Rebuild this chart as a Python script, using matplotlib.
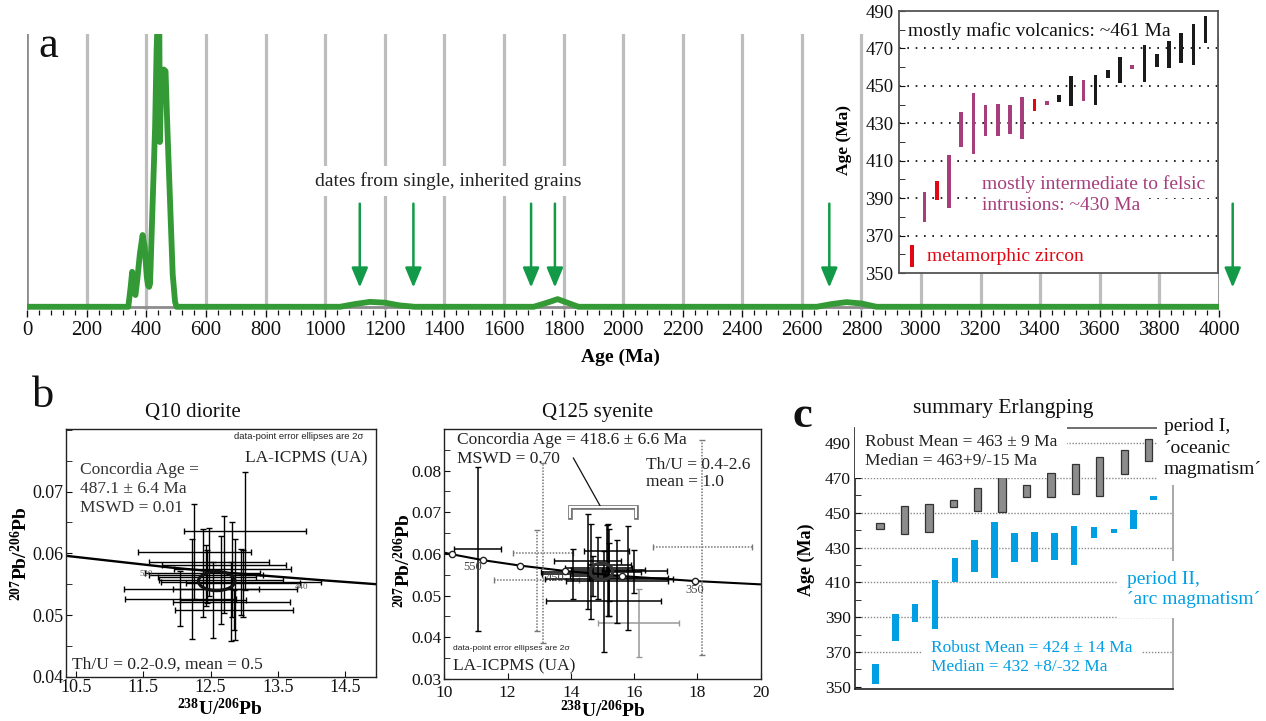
import numpy as np
import matplotlib
matplotlib.use("Agg")
import matplotlib.pyplot as plt
from matplotlib.patches import Ellipse
from matplotlib.ticker import MultipleLocator

plt.rcParams['font.family'] = ['Liberation Serif', 'DejaVu Serif']
plt.rcParams['mathtext.fontset'] = 'custom'
plt.rcParams['mathtext.rm'] = 'Liberation Serif'
plt.rcParams['mathtext.bf'] = 'Liberation Serif:bold'
plt.rcParams['mathtext.it'] = 'Liberation Serif:italic'

# ---------------- data: panel a (probability density of ages) ----------------
kde_age = [0, 339, 347, 352, 358, 363, 369, 378, 387, 394, 401, 405, 409, 412, 421,
           429, 434, 439, 443, 445, 450, 458, 464, 470, 479, 488, 496, 501,
           1050, 1100, 1150, 1200, 1250, 1300, 1700, 1745, 1780, 1820, 1850,
           2650, 2700, 2750, 2800, 2850, 4000]
kde_val = [0, 0, 0.073, 0.128, 0.061, 0.043, 0.098, 0.195, 0.263, 0.22, 0.11, 0.079, 0.073, 0.085, 0.39,
           0.66, 0.94, 1.10, 1.05, 0.604, 0.86, 0.87, 0.864, 0.66, 0.39, 0.12, 0.018, 0,
           0, 0.01, 0.018, 0.015, 0.005, 0, 0, 0.015, 0.028, 0.012, 0,
           0, 0.01, 0.017, 0.012, 0, 0]
arrow_ages = [1116, 1296, 1691, 1771, 2692, 4046]

# inset of panel a: individual sample ages (low / high of bar)
inset_lo = [353, 377.5, 389, 385, 417.5, 413.6, 423, 423.2, 424.3, 421.6, 436.5, 439.8, 441.5,
            439, 442, 440, 454.3, 451.7, 458.8, 452, 460, 459.7, 462, 461, 473]
inset_hi = [365, 393.5, 399, 413, 436, 446, 439.8, 440.3, 439.8, 444, 443, 442, 445,
            455, 453, 456, 458.3, 465.2, 461, 471.6, 467, 474, 478.5, 483, 487.4]
inset_type = ['met', 'int', 'met', 'int', 'int', 'int', 'int', 'int', 'int', 'int', 'met', 'int', 'maf',
              'maf', 'int', 'maf', 'maf', 'maf', 'int', 'maf', 'maf', 'maf', 'maf', 'maf', 'maf']
type_colors = {'met': '#e30613', 'int': '#a63e7c', 'maf': '#1a1a1a'}

# ---------------- data: panel b ----------------
q10_conc_x = [10.35, 11.0, 11.9, 12.7, 13.5, 14.2, 14.95]
q10_conc_y = [0.0596, 0.0588, 0.0577, 0.0569, 0.0562, 0.0556, 0.0550]
q10_x = [12.05, 12.22, 12.26, 12.38, 12.43, 12.45, 12.48, 12.54, 12.66, 12.70, 12.81, 12.82,
         12.86, 12.95, 12.98, 13.01, 12.85]
q10_y = [0.05266, 0.05418, 0.06023, 0.05682, 0.05644, 0.05623, 0.05861, 0.05245, 0.05569,
         0.05817, 0.05212, 0.05742, 0.05418, 0.05536, 0.05515, 0.06363, 0.05083]
q10_xe = [0.82, 1.00, 0.84, 0.85, 0.85, 0.73, 0.89, 0.49, 0.92, 0.92, 0.87, 0.87, 0.92, 1.19,
          0.84, 0.91, 0.88]
q10_ye = [0.0044, 0.0081, 0.0077, 0.0071, 0.0049, 0.0043, 0.0055, 0.0062, 0.0071, 0.0079,
          0.0064, 0.0077, 0.0082, 0.0053, 0.0054, 0.0096, 0.0032]

q125_conc_x = [10.0, 10.25, 11.23, 12.40, 13.83, 15.62, 17.92, 20.0]
q125_conc_y = [0.0603, 0.0599, 0.0585, 0.0572, 0.0559, 0.0547, 0.0535, 0.0527]
q125_mark_x = [10.25, 11.23, 12.40, 13.83, 15.62, 17.92]
q125_mark_y = [0.0599, 0.0585, 0.0572, 0.0559, 0.0547, 0.0535]
q125_x = [11.05, 14.08, 14.53, 14.63, 14.87, 15.04, 15.16, 15.21, 15.47, 15.82, 16.01, 15.13, 15.21, 14.71]
q125_y = [0.0612, 0.0551, 0.0582, 0.0557, 0.0566, 0.0486, 0.0562, 0.0574, 0.0534, 0.0542, 0.0558,
          0.0606, 0.0539, 0.0547]
q125_xe = [0.74, 1.00, 1.06, 1.58, 1.05, 1.82, 1.17, 0.68, 1.61, 1.26, 1.02, 0.71, 2.02, 0.74]
q125_ye = [0.0196, 0.0060, 0.0113, 0.0114, 0.0074, 0.0121, 0.0110, 0.0086, 0.0099, 0.0124,
           0.0052, 0.0064, 0.0088, 0.0048]
q125_excl_x = [13.12, 12.92, 18.16]
q125_excl_y = [0.0602, 0.0537, 0.0616]
q125_excl_xe = [0.95, 1.34, 1.55]
q125_excl_ye = [0.0216, 0.0121, 0.0258]
q125_disc_x = [16.14]
q125_disc_y = [0.0434]
q125_disc_xe = [1.28]
q125_disc_ye = [0.0081]

# ---------------- data: panel c ----------------
c_gray_lo = [440.5, 437.6, 438.8, 453.4, 451.1, 450.7, 458.9, 458.9, 461, 459.9, 472.2, 479.8]
c_gray_hi = [444, 453.9, 454.9, 457.2, 464.1, 470.4, 465.8, 473.1, 477.9, 481.9, 486.2, 492.5]
c_blue_lo = [351.3, 376.3, 387.4, 383, 410.4, 416, 412.3, 421.7, 421.7, 422.9, 420.2, 435.3,
             438.4, 440.7, 457.4]
c_blue_hi = [363, 391.6, 397.6, 411.4, 423.8, 434.2, 444.5, 438.2, 438.8, 438.4, 442.4, 441.9,
             440.7, 451.6, 459.7]

# ---------------- figure ----------------
W, H = 1266, 721
fig = plt.figure(figsize=(W / 100, H / 100), dpi=100)


def box(l, t, r, b):
    return [l / W, 1 - b / H, (r - l) / W, (b - t) / H]


def T(x, y, s, **kw):
    kw.setdefault('va', 'center')
    return fig.text(x / W, 1 - y / H, s, **kw)


def TB(x, y, s, pad=0.3, **kw):
    """text with a white background box drawn below all foreground texts"""
    bg = dict(kw)
    bg['color'] = 'none'
    T(x, y, s, bbox=dict(boxstyle='square,pad=%g' % pad, fc='white', ec='none'), zorder=3, **bg)
    return T(x, y, s, zorder=4, **kw)


GREEN = '#339a36'
AGREEN = '#129a48'
BLUE = '#009fe3'
PURPLE = '#a63e7c'
RED = '#e30613'

# ================= panel a =================
axA = fig.add_axes(box(27.3, 34, 1219, 309.5))
axA.set_xlim(0, 4000)
axA.set_ylim(-0.01, 1.0)
for s in axA.spines.values():
    s.set_visible(False)
for v in range(200, 4000, 200):
    axA.axvline(v, color='#bdbdbd', lw=2.3, zorder=1)
for v in (0, 4000):
    axA.axvline(v, color='#8c8c8c', lw=2.0, zorder=1)
axA.axhline(0, color='#8c8c8c', lw=2, zorder=2)
axA.plot(kde_age, kde_val, color=GREEN, lw=4.2, zorder=3, solid_joinstyle='round')
axA.set_yticks([])
axA.xaxis.set_major_locator(MultipleLocator(200))
axA.xaxis.set_minor_locator(MultipleLocator(40))
axA.tick_params(axis='x', which='major', length=5, width=1, pad=3, labelsize=15, colors='#111')
axA.tick_params(axis='x', which='minor', length=3.5, width=0.9, colors='#111')
axA.set_xlabel('Age (Ma)', fontsize=14, fontweight='bold')
axA.xaxis.set_label_coords(0.498, -0.143)
for a in arrow_ages:
    axA.annotate('', xy=(a, 0.0707), xytext=(a, 0.378), annotation_clip=False,
                 arrowprops=dict(arrowstyle='-|>,head_length=0.6,head_width=0.25',
                                 color=AGREEN, lw=1.8, shrinkA=0, shrinkB=0, mutation_scale=20))
T(38, 57, 'a', fontsize=32, va='baseline', color='#111')
TB(448, 181, 'dates from single, inherited grains', pad=0.3, ha='center', fontsize=14, color='#222')

# ---- inset ----
axI = fig.add_axes(box(899, 11, 1218, 273))
axI.set_xlim(-1.09, 25.01)
axI.set_ylim(350, 490)
ipos = np.arange(len(inset_lo))
ilo = np.array(inset_lo)
ihi = np.array(inset_hi)
axI.bar(ipos, ihi - ilo, bottom=ilo, width=0.3, color=[type_colors[t] for t in inset_type], zorder=3)
for g in range(370, 490, 20):
    axI.axhline(g, color='k', lw=1.2, ls=(0, (1, 4)), zorder=1)
axI.set_xticks([])
axI.set_yticks(range(350, 491, 20))
axI.yaxis.set_minor_locator(MultipleLocator(10))
axI.tick_params(axis='y', which='both', direction='in', length=4, labelsize=13.5, pad=4, colors='#111')
for s in axI.spines.values():
    s.set_color('#555')
    s.set_linewidth(1.3)
axI.set_ylabel('Age (Ma)', fontsize=12.5, fontweight='bold')
axI.yaxis.set_label_coords(-0.147, 0.508)
T(908, 31, 'mostly mafic volcanics: ~461 Ma', fontsize=14, color='#111')
TB(981.7, 184, 'mostly intermediate to felsic', pad=0.25, fontsize=14, color=PURPLE)
TB(981.7, 205.7, 'intrusions: ~430 Ma', pad=0.25, fontsize=14, color=PURPLE)
T(926.7, 256, 'metamorphic zircon', fontsize=14, color=RED)

# ================= panel b, Q10 =================
axB1 = fig.add_axes(box(65.7, 429.3, 375.7, 676.7))
axB1.set_xlim(10.35, 14.95)
axB1.set_ylim(0.04, 0.0801)
axB1.set_xticks([10.5, 11.5, 12.5, 13.5, 14.5])
axB1.set_xticklabels(['10.5', '11.5', '12.5', '13.5', '14.5'])
axB1.set_yticks([0.04, 0.05, 0.06, 0.07])
axB1.set_yticklabels(['0.04', '0.05', '0.06', '0.07'])
axB1.yaxis.set_minor_locator(MultipleLocator(0.005))
axB1.tick_params(which='both', direction='in', length=4, labelsize=13, pad=1.5, colors='#111')
for s in axB1.spines.values():
    s.set_linewidth(1.0)
    s.set_color('#222')
axB1.plot(q10_conc_x, q10_conc_y, color='k', lw=1.7, zorder=2)
axB1.errorbar(q10_x, q10_y, xerr=q10_xe, yerr=q10_ye, fmt='none', ecolor='k',
              elinewidth=1.0, capsize=2.5, capthick=1.0, zorder=3)
axB1.add_patch(Ellipse((12.59, 0.0555), 0.54, 0.0031, fill=False, lw=2.3, ec='#111', zorder=4))
axB1.set_ylabel(r'$\mathbf{^{207}Pb/^{206}Pb}$', fontsize=14)
axB1.yaxis.set_label_coords(-0.112, 0.496)
axB1.set_xlabel(r'$\mathbf{^{238}U/^{206}Pb}$', fontsize=14)
axB1.xaxis.set_label_coords(0.498, -0.086)
T(32, 407, 'b', fontsize=32, va='baseline', color='#111')
T(193, 412, 'Q10 diorite', ha='center', fontsize=15, color='#111')
T(363, 437, 'data-point error ellipses are 2σ', ha='right', fontsize=6.8,
  family=['Liberation Sans', 'DejaVu Sans'], color='#222')
T(367, 458, 'LA-ICPMS (UA)', ha='right', fontsize=12.5, color='#222')
T(80, 470, 'Concordia Age =', fontsize=12.5, color='#333')
T(80, 489, '487.1 ± 6.4 Ma', fontsize=12.5, color='#333')
T(80, 508, 'MSWD = 0.01', fontsize=12.5, color='#333')
T(72, 665, 'Th/U = 0.2-0.9, mean = 0.5', fontsize=12.5, color='#222')
T(145.7, 574.3, '520', ha='center', fontsize=6.5, color='#555')
T(301.7, 586.7, '440', ha='center', fontsize=6.5, color='#555')

# ================= panel b, Q125 =================
axB2 = fig.add_axes(box(444.3, 429.3, 760.7, 679))
axB2.set_xlim(10, 20)
axB2.set_ylim(0.03, 0.0899)
axB2.set_xticks([10, 12, 14, 16, 18, 20])
axB2.set_yticks([0.03, 0.04, 0.05, 0.06, 0.07, 0.08])
axB2.set_yticklabels(['0.03', '0.04', '0.05', '0.06', '0.07', '0.08'])
axB2.yaxis.set_minor_locator(MultipleLocator(0.005))
axB2.tick_params(which='both', direction='in', length=4, labelsize=12.5, colors='#111')
axB2.tick_params(axis='x', pad=4)
axB2.tick_params(axis='y', pad=2)
for s in axB2.spines.values():
    s.set_linewidth(1.0)
    s.set_color('#222')
axB2.plot(q125_conc_x, q125_conc_y, color='k', lw=1.5, zorder=2)
axB2.plot(q125_mark_x, q125_mark_y, 'o', ms=4.5, mfc='white', mec='#222', mew=1.0, zorder=5)
eb = axB2.errorbar(q125_excl_x, q125_excl_y, xerr=q125_excl_xe, yerr=q125_excl_ye, fmt='none',
                   ecolor='#777', elinewidth=1.1, capsize=2.5, capthick=1.0, zorder=2)
for lc in eb[2]:
    lc.set_linestyle((0, (1, 1)))
axB2.errorbar(q125_disc_x, q125_disc_y, xerr=q125_disc_xe, yerr=q125_disc_ye, fmt='none',
              ecolor='#999', elinewidth=1.1, capsize=2.5, capthick=1.0, zorder=2)
axB2.errorbar(q125_x, q125_y, xerr=q125_xe, yerr=q125_ye, fmt='none', ecolor='k',
              elinewidth=1.1, capsize=2.5, capthick=1.0, zorder=3)
axB2.add_patch(Ellipse((14.97, 0.0558), 0.71, 0.0040, fill=False, lw=2.3, ec='#333', zorder=4))
# bracket marking the grains used for the concordia age
br_x = [13.96, 13.96, 16.07, 16.07]
br_y = [0.0688, 0.0712, 0.0712, 0.0688]
axB2.plot(br_x, br_y, color='#777', lw=3.4, solid_joinstyle='miter', zorder=4)
axB2.plot(br_x, br_y, color='white', lw=1.4, solid_joinstyle='miter', zorder=5)
axB2.plot([14.92, 14.08], [0.0716, 0.0830], color='#111', lw=0.9, zorder=4)
axB2.set_ylabel(r'$\mathbf{^{207}Pb/^{206}Pb}$', fontsize=14)
axB2.yaxis.set_label_coords(-0.095, 0.473)
axB2.set_xlabel(r'$\mathbf{^{238}U/^{206}Pb}$', fontsize=14)
axB2.xaxis.set_label_coords(0.5, -0.084)
T(598, 412, 'Q125 syenite', ha='center', fontsize=15, color='#111')
T(456.7, 440, 'Concordia Age = 418.6 ± 6.6 Ma', fontsize=12.5, color='#222')
T(456.7, 459.3, 'MSWD = 0.70', fontsize=12.5, color='#222')
T(645.7, 465, 'Th/U = 0.4-2.6', fontsize=12.5, color='#222')
T(645.7, 481.7, 'mean = 1.0', fontsize=12.5, color='#222')
T(453, 648.3, 'data-point error ellipses are 2σ', fontsize=6.1,
  family=['Liberation Sans', 'DejaVu Sans'], color='#222')
T(453, 666.7, 'LA-ICPMS (UA)', fontsize=12.5, color='#222')
T(472.7, 566.7, '550', ha='center', fontsize=9, color='#444')
T(555, 577.7, '450', ha='center', fontsize=9, color='#444')
T(695, 590, '350', ha='center', fontsize=9, color='#444')

# ================= panel c =================
axC = fig.add_axes(box(855, 427.7, 1173.3, 689.3))
axC.set_xlim(0, 955)
axC.set_ylim(348.5, 499)
for g in range(370, 500, 20):
    axC.axhline(g, color='#8a8a8a', lw=1.0, ls=(0, (1, 1.2)), zorder=1)
gpos = np.linspace(75, 881, len(c_gray_lo))
bpos = np.linspace(61, 896, len(c_blue_lo))
glo, ghi = np.array(c_gray_lo), np.array(c_gray_hi)
blo, bhi = np.array(c_blue_lo), np.array(c_blue_hi)
axC.bar(gpos, ghi - glo, bottom=glo, width=22, color='#8c8c8c', edgecolor='#333', lw=0.9, zorder=3)
axC.bar(bpos, bhi - blo, bottom=blo, width=20, color=BLUE, zorder=3)
axC.set_xticks([])
axC.set_yticks(range(350, 491, 20))
axC.yaxis.set_minor_locator(MultipleLocator(10))
axC.tick_params(axis='y', which='both', direction='in', length=4, labelsize=12.5, pad=3, colors='#111')
axC.spines['left'].set_color('#222')
axC.spines['bottom'].set_color('#222')
axC.spines['top'].set_color('#555')
axC.spines['right'].set_color('#999')
for s in axC.spines.values():
    s.set_linewidth(1.2)
axC.set_ylabel('Age (Ma)', fontsize=13, fontweight='bold')
axC.yaxis.set_label_coords(-0.126, 0.494)
T(792, 427, 'c', fontsize=32, fontweight='bold', va='baseline', color='#111')
T(1003.3, 408, 'summary Erlangping', ha='center', fontsize=15.5, color='#111')
TB(865, 441.7, 'Robust Mean = 463 ± 9 Ma', pad=0.55, fontsize=12.5, color='#222')
TB(865, 460.7, 'Median = 463+9/-15 Ma', pad=0.55, fontsize=12.5, color='#222')
TB(1164, 426.7, 'period I,', pad=0.35, fontsize=14, color='#111')
TB(1164, 448.3, '´oceanic', pad=0.35, fontsize=14, color='#111')
TB(1164, 469.3, 'magmatism´', pad=0.35, fontsize=14, color='#111')
TB(1126.7, 579, 'period II,', pad=0.5, fontsize=14, color=BLUE)
TB(1126.7, 600, '´arc magmatism´', pad=0.5, fontsize=14, color=BLUE)
TB(931, 648.3, 'Robust Mean = 424 ± 14 Ma', pad=0.5, fontsize=12.5, color=BLUE)
TB(931, 667.3, 'Median = 432 +8/-32 Ma', pad=0.5, fontsize=12.5, color=BLUE)

fig.savefig('out.png', dpi=100)
